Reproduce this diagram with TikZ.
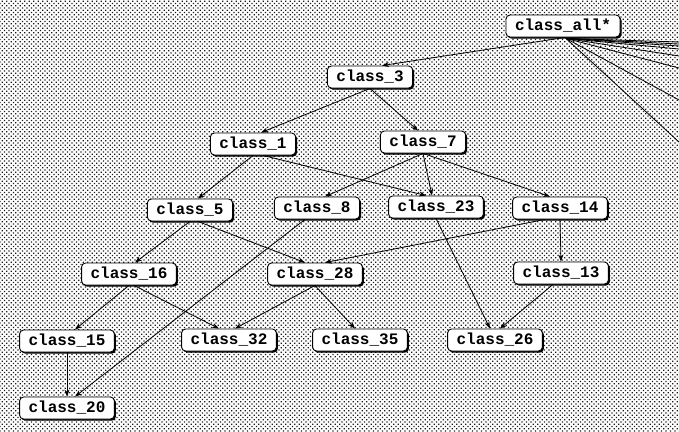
\documentclass[tikz,border=0pt]{standalone}
\usepackage{fontspec}
\setmonofont{Liberation Mono}
\usetikzlibrary{arrows.meta,shadows,patterns}
\pgfdeclarepatternformonly{bgdots}{\pgfqpoint{-1pt}{-1pt}}{\pgfqpoint{4.5pt}{4.5pt}}{\pgfqpoint{4.5pt}{4.5pt}}{%
  \pgfpathrectangle{\pgfqpoint{-0.6pt}{-0.6pt}}{\pgfqpoint{1.2pt}{1.2pt}}%
  \pgfpathrectangle{\pgfqpoint{1.65pt}{1.65pt}}{\pgfqpoint{1.2pt}{1.2pt}}%
  \pgfusepath{fill}}
\tikzset{
  cls/.style={draw=black, line width=0.9pt, fill=white, rounded corners=4pt,
    font=\ttfamily\bfseries\fontsize{16}{16}\selectfont,
    inner xsep=9pt, inner ysep=0pt, minimum height=22pt,
    drop shadow={shadow xshift=1.5pt, shadow yshift=-1.6pt, fill=black, opacity=1}},
  edge/.style={draw=black, line width=0.8pt, -{Stealth[length=7pt,width=5pt]}},
  fan/.style={draw=black, line width=0.8pt}
}
\begin{document}
\begin{tikzpicture}[x=1pt,y=-1pt]
\useasboundingbox (0,0) rectangle (679,431);
\fill[white] (0,0) rectangle (679,431);
\fill[pattern=bgdots, pattern color=black!90] (0,0) rectangle (679,431);

\node[cls] (all) at (563,26) {class\_all*};
\node[cls] (c3) at (370,77) {class\_3};
\node[cls] (c1) at (253,144) {class\_1};
\node[cls] (c7) at (423,142) {class\_7};
\node[cls] (c5) at (190,210) {class\_5};
\node[cls] (c8) at (317,208) {class\_8};
\node[cls] (c23) at (436,207) {class\_23};
\node[cls] (c14) at (560,208) {class\_14};
\node[cls] (c16) at (129,274) {class\_16};
\node[cls] (c28) at (315,274) {class\_28};
\node[cls] (c13) at (561,273) {class\_13};
\node[cls] (c15) at (67,341) {class\_15};
\node[cls] (c32) at (229,340) {class\_32};
\node[cls] (c35) at (360,340) {class\_35};
\node[cls] (c26) at (495,340) {class\_26};
\node[cls] (c20) at (67,408) {class\_20};

\coordinate (r1) at (679,42);
\coordinate (r2) at (679,44);
\coordinate (r3) at (679,46);
\coordinate (r4) at (679,49);
\coordinate (r5) at (679,56);
\coordinate (r6) at (679,68);
\coordinate (r7) at (679,100);
\coordinate (r8) at (679,142);

\foreach \r in {r1,r2,r3,r4,r5,r6,r7,r8} \draw[fan] ([xshift=3pt,yshift=-1pt]all.south) -- (\r);

\draw[edge] ([xshift=2pt]all.south) -- ([xshift=12pt]c3.north);
\draw[edge] (c3.south) -- ([xshift=8pt]c1.north);
\draw[edge] (c3.south) -- ([xshift=-5pt]c7.north);
\draw[edge] (c1.south) -- ([xshift=8pt]c5.north);
\draw[edge] ([xshift=10pt]c1.south) -- ([xshift=-10pt]c23.north);
\draw[edge] (c7.south) -- ([xshift=8pt]c8.north);
\draw[edge] (c7.south) -- ([xshift=-4pt]c23.north);
\draw[edge] (c7.south) -- ([xshift=-10pt]c14.north);
\draw[edge] (c5.south) -- ([xshift=6pt]c16.north);
\draw[edge] ([xshift=8pt]c5.south) -- ([xshift=-10pt]c28.north);
\draw[edge] ([xshift=-12pt]c8.south) -- ([xshift=8pt]c20.north);
\draw[edge] ([xshift=-15pt]c14.south) -- ([xshift=10pt]c28.north);
\draw[edge] (c14.south) -- (c13.north);
\draw[edge] (c23.south) -- ([xshift=-5pt]c26.north);
\draw[edge] (c16.south) -- ([xshift=8pt]c15.north);
\draw[edge] ([xshift=5pt]c16.south) -- ([xshift=-10pt]c32.north);
\draw[edge] (c28.south) -- ([xshift=6pt]c32.north);
\draw[edge] (c28.south) -- ([xshift=-5pt]c35.north);
\draw[edge] ([xshift=-8pt]c13.south) -- ([xshift=5pt]c26.north);
\draw[edge] (c15.south) -- (c20.north);
\end{tikzpicture}
\end{document}
